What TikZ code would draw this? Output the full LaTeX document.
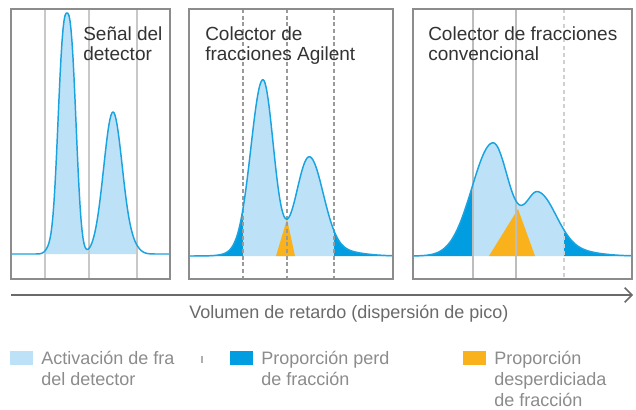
\documentclass[tikz,border=0pt]{standalone}
\usepackage{fontspec}
\setmainfont{Liberation Sans}
\usetikzlibrary{arrows.meta}
\definecolor{lightfill}{HTML}{BDE1F6}
\definecolor{darkfill}{HTML}{009EE0}
\definecolor{curvecol}{HTML}{1AA3E1}
\definecolor{orangefill}{HTML}{F9B21B}
\definecolor{framegray}{HTML}{8C8C8C}
\definecolor{gridA}{HTML}{C8C8C8}
\definecolor{gridB}{HTML}{9A9A9A}
\definecolor{gridC}{HTML}{BDBDBD}
\definecolor{gridD}{HTML}{D0D0D0}
\definecolor{titlecol}{HTML}{333333}
\definecolor{axiscol}{HTML}{6A6A6A}
\definecolor{legcol}{HTML}{8C8C8C}
\pgfmathdeclarefunction{gau}{3}{\pgfmathparse{exp(max(-15,-0.5*((#1-#2)/#3)^2))}}
\pgfmathdeclarefunction{sgau}{4}{\pgfmathparse{exp(max(-15,-pow(abs(#1-#2)/#3+0.001,#4)))}}
\newcommand\fA{(241*sgau(\x,67,10.9,2.65)+142*gau(\x,113,9.35)+6*gau(\x,50,4)+4*gau(\x,134,6))}
\newcommand\fB{(174*gau(\x,263,ifthenelse(\x<263,12,10.5))+95*gau(\x,309,ifthenelse(\x<309,13,14))+6*gau(\x,330,25)+4*gau(\x,245,15))}
\newcommand\fC{(113*gau(\x,493,ifthenelse(\x<493,21,16))+60*gau(\x,538,ifthenelse(\x<538,13,18))+5*gau(\x,570,25))}
\begin{document}
\begin{tikzpicture}[x=0.75pt,y=-0.75pt,
  frame/.style={draw=framegray,line width=1.1pt},
  curve/.style={draw=curvecol,line width=1.1pt,line join=round},
  gridsolid/.style={draw=gridA,line width=0.9pt},
  griddash/.style={draw=gridB,line width=0.8pt,dash pattern=on 3pt off 2pt},
  gridsolidC/.style={draw=gridC,line width=1.1pt},
  griddashD/.style={draw=gridD,line width=1.1pt,dash pattern=on 3pt off 2.5pt},
  title/.style={font=\fontsize{14.25pt}{15pt}\selectfont,text=titlecol,anchor=base west,inner sep=0pt},
  leg/.style={font=\fontsize{13.5pt}{15pt}\selectfont,text=legcol,anchor=base west,inner sep=0pt},
  axlabel/.style={font=\fontsize{13.5pt}{15pt}\selectfont,text=axiscol,anchor=base west,inner sep=0pt},
  legbox/.style={inner sep=0pt,minimum width=17pt,minimum height=10pt,anchor=north west}
]
\useasboundingbox[fill=white] (0,0) rectangle (636,410);

% ---------- Panel 1 ----------
\fill[lightfill] (45,254) -- plot[domain=45:137,samples=93] (\x,{254-\fA}) -- (137,254) -- cycle;
\foreach \gx in {45,89,137} \draw[gridsolid] (\gx,9) -- (\gx,279);
\draw[curve] plot[domain=11:170,samples=160] (\x,{254-\fA});
\draw[frame] (11,9) rectangle (170,279);
\node[title] (t1a) at (83,41) {Señal del};
\node[title] (t1b) at (83,61) {detector};

% ---------- Panel 2 ----------
\fill[darkfill] (190,256) -- plot[domain=190:243,samples=54] (\x,{256-\fB}) -- (243,256) -- cycle;
\fill[lightfill] (243,256) -- plot[domain=243:334,samples=92] (\x,{256-\fB}) -- (334,256) -- cycle;
\fill[darkfill] (334,256) -- plot[domain=334:393,samples=60] (\x,{256-\fB}) -- (393,256) -- cycle;
\fill[orangefill] (276,256) -- (287,219) -- (295,256) -- cycle;
\foreach \gx in {243,287,334} \draw[griddash] (\gx,9) -- (\gx,279);
\draw[curve] plot[domain=190:393,samples=204] (\x,{256-\fB});
\draw[frame] (189,9) rectangle (393,279);
\node[title] (t2a) at (205,41) {Colector de};
\node[title] (t2b) at (205,61) {fracciones Agilent};

% ---------- Panel 3 ----------
\fill[darkfill] (413,256) -- plot[domain=413:473,samples=61] (\x,{256-\fC}) -- (473,256) -- cycle;
\fill[lightfill] (473,256) -- plot[domain=473:564,samples=92] (\x,{256-\fC}) -- (564,256) -- cycle;
\fill[darkfill] (564,256) -- plot[domain=564:632,samples=69] (\x,{256-\fC}) -- (632,256) -- cycle;
\fill[orangefill] (489,256) -- (518,209) -- (535,256) -- cycle;
\foreach \gx in {473,516} \draw[gridsolidC] (\gx,9) -- (\gx,279);
\draw[griddashD] (564,9) -- (564,279);
\draw[curve] plot[domain=413:632,samples=220] (\x,{256-\fC});
\draw[frame] (413,9) rectangle (632,279);
\node[title] (t3a) at (428,41) {Colector de fracciones};
\node[title] (t3b) at (428,61) {convencional};

% ---------- Axis ----------
\coordinate (axS) at (11,295);
\coordinate (axE) at (633,295);
\draw[draw=axiscol,line width=1.1pt,-{Straight Barb[length=5.5pt,width=11pt,line width=1.1pt]}] (axS) -- (axE);
\node[axlabel] (axl) at (189,318) {Volumen de retardo (dispersión de pico)};

% ---------- Legend ----------
\node[legbox,fill=lightfill] (lg1) at (10,351) {};
\node[leg] (lg1a) at (41,364) {Activación de fra};
\node[leg] (lg1b) at (41,385) {del detector};
\coordinate (tkA) at (202,356);
\coordinate (tkB) at (202,363);
\draw[draw=legcol!70,line width=0.8pt] (tkA) -- (tkB);
\node[legbox,fill=darkfill] (lg2) at (230,351) {};
\node[leg] (lg2a) at (261,364) {Proporción perd};
\node[leg] (lg2b) at (261,385) {de fracción};
\node[legbox,fill=orangefill] (lg3) at (463,351) {};
\node[leg] (lg3a) at (494,364) {Proporción};
\node[leg] (lg3b) at (494,385) {desperdiciada};
\node[leg] (lg3c) at (494,406) {de fracción};
\end{tikzpicture}
\end{document}
